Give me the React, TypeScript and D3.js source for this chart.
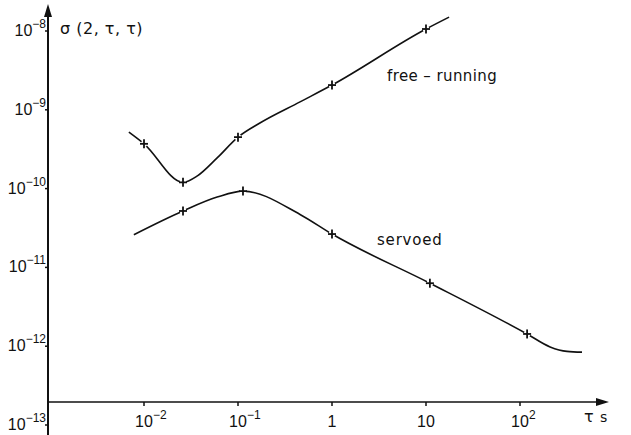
import * as d3 from 'd3'

const W = 631
const H = 435

// log axes (hand-drawn original: decades ~94px apart on x, ~79px on y)
const X_TICKS = [1e-2, 1e-1, 1, 10, 1e2]
const X_TICK_LABELS = [['10', '−2'], ['10', '−1'], ['1', ''], ['10', ''], ['10', '2']]
const Y_TICKS = [1e-8, 1e-9, 1e-10, 1e-11, 1e-12, 1e-13]
const Y_TICK_LABELS = ['−8', '−9', '−10', '−11', '−12', '−13']

// free-running curve
const freeTau = [0.0069, 0.01, 0.026, 0.037, 0.06, 0.1, 0.171, 0.457, 1, 10, 17.6]
const freeSigma = [5.2e-10, 3.7e-10, 1.2e-10, 1.45e-10, 2.45e-10, 4.5e-10, 6.8e-10, 1.26e-9, 2.06e-9, 1.06e-8, 1.5e-8]
const freeMarkTau = [0.01, 0.026, 0.1, 1, 10]
const freeMarkSigma = [3.7e-10, 1.2e-10, 4.5e-10, 2.06e-9, 1.06e-8]

// servoed curve
const servoTau = [0.0078, 0.026, 0.06, 0.113, 0.457, 1, 11, 119, 209, 316, 457]
const servoSigma = [2.6e-11, 5.2e-11, 7.8e-11, 9.3e-11, 4.7e-11, 2.65e-11, 6.3e-12, 1.43e-12, 9.8e-13, 8.6e-13, 8.4e-13]
const servoMarkTau = [0.026, 0.113, 1, 11, 119]
const servoMarkSigma = [5.2e-11, 9.3e-11, 2.65e-11, 6.3e-12, 1.43e-12]

const AXIS_X = 48
const AXIS_Y = 402
const NUM_FONT = "'Liberation Sans', Arial, sans-serif"
const TXT_FONT = "'DejaVu Sans', Verdana, sans-serif"

export default function App() {
  const x = d3.scaleLog().domain([1e-2, 1e2]).range([144, 520])
  const y = d3.scaleLog().domain([1e-13, 1e-8]).range([425, 31])

  const line = d3.line<[number, number]>()
    .x(d => x(d[0]))
    .y(d => y(d[1]))
    .curve(d3.curveMonotoneX)

  const freePts = freeTau.map((t, i) => [t, freeSigma[i]] as [number, number])
  const servoPts = servoTau.map((t, i) => [t, servoSigma[i]] as [number, number])
  const marks = [
    ...freeMarkTau.map((t, i) => [t, freeMarkSigma[i]]),
    ...servoMarkTau.map((t, i) => [t, servoMarkSigma[i]])
  ]

  return (
    <svg width={W} height={H} style={{ position: 'absolute', left: 0, top: 0, background: '#fff' }}>
      {/* curves */}
      <path d={line(freePts) || ''} fill="none" stroke="#111" strokeWidth={1.6} />
      <path d={line(servoPts) || ''} fill="none" stroke="#111" strokeWidth={1.6} />

      {/* + markers */}
      {marks.map(([t, s], i) => {
        const cx = x(t)
        const cy = y(s)
        return (
          <g key={i}>
            <circle cx={cx} cy={cy} r={3.2} fill="#fff" />
            <line x1={cx - 4} x2={cx + 4} y1={cy} y2={cy} stroke="#111" strokeWidth={1.8} />
            <line x1={cx} x2={cx} y1={cy - 4.5} y2={cy + 4.5} stroke="#111" strokeWidth={1.8} />
          </g>
        )
      })}

      {/* y axis */}
      <line x1={AXIS_X} x2={AXIS_X} y1={14} y2={H} stroke="#111" strokeWidth={2} />
      <path d={`M${AXIS_X},4 L${AXIS_X - 4},17 L${AXIS_X + 4},17 Z`} fill="#111" />
      {Y_TICKS.map((t, i) => (
        <g key={t}>
          <line x1={AXIS_X - 3} x2={AXIS_X} y1={y(t)} y2={y(t)} stroke="#111" strokeWidth={1.5} />
          <text x={AXIS_X - 2} y={y(t) + 5} textAnchor="end" fontFamily={NUM_FONT} fontSize={16} fill="#111">
            10<tspan dy={-8} fontSize={12}>{Y_TICK_LABELS[i]}</tspan>
          </text>
        </g>
      ))}
      <text x={60} y={34} fontFamily={TXT_FONT} fontSize={16} fill="#111" letterSpacing={0.5}>
        σ (2, τ, τ)
      </text>

      {/* x axis */}
      <line x1={AXIS_X} x2={598} y1={AXIS_Y} y2={AXIS_Y} stroke="#111" strokeWidth={1.6} />
      <path d={`M609,${AXIS_Y} L596,${AXIS_Y - 4} L596,${AXIS_Y + 4} Z`} fill="#111" />
      {X_TICKS.map((t, i) => {
        const [base, sup] = X_TICK_LABELS[i]
        const tx = x(t)
        return (
          <g key={t}>
            <line x1={tx} x2={tx} y1={AXIS_Y} y2={AXIS_Y + 4} stroke="#111" strokeWidth={1.5} />
            <text x={tx} y={427} textAnchor="middle" fontFamily={NUM_FONT} fontSize={16} fill="#111">
              {base}
            </text>
            {sup && (
              <text x={tx + (base === '10' ? 9 : 4)} y={419} fontFamily={NUM_FONT} fontSize={12} fill="#111">
                {sup}
              </text>
            )}
          </g>
        )
      })}
      <text x={584} y={422} fontFamily={TXT_FONT} fontSize={16} fill="#111">τ</text>
      <text x={600} y={422} fontFamily={TXT_FONT} fontSize={14} fill="#111">s</text>

      {/* curve labels */}
      <text x={387} y={81} fontFamily={TXT_FONT} fontSize={15} fill="#111" letterSpacing={0.4}>
        free – running
      </text>
      <text x={377} y={245} fontFamily={TXT_FONT} fontSize={15} fill="#111" letterSpacing={0.8}>
        servoed
      </text>
    </svg>
  )
}
